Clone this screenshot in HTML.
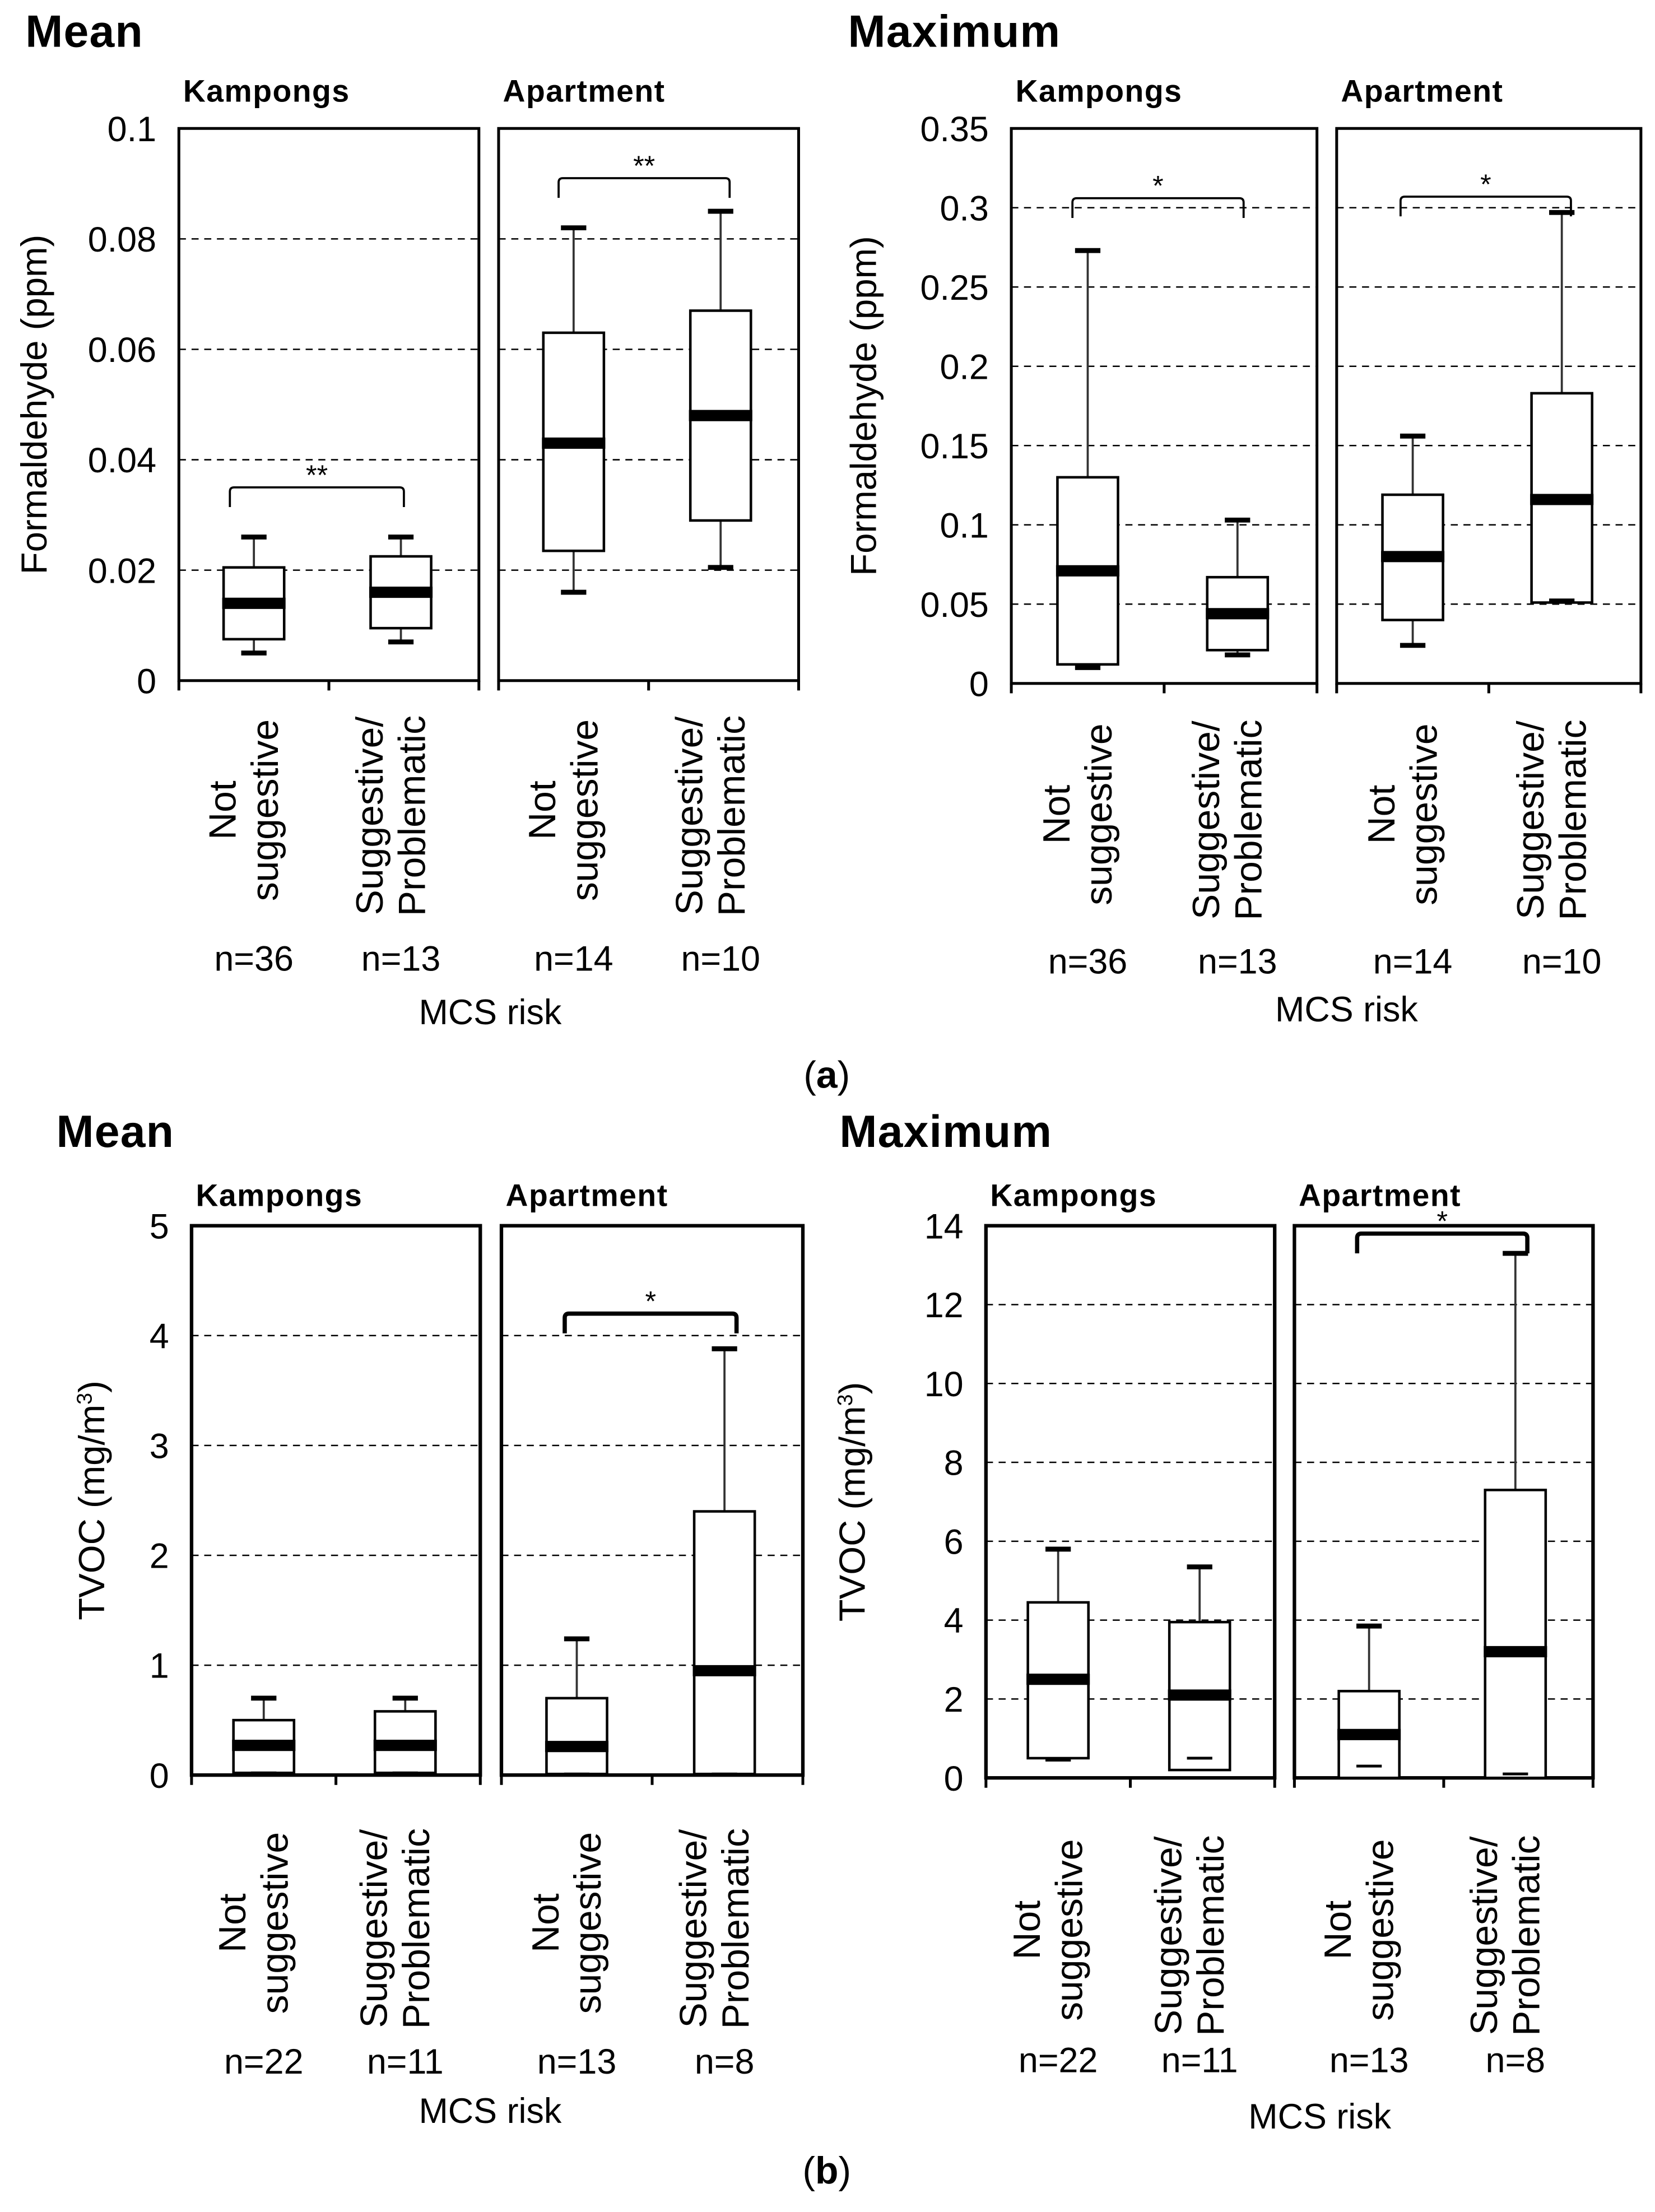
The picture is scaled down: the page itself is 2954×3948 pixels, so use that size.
<!DOCTYPE html>
<html><head><meta charset="utf-8"><style>
html,body{margin:0;padding:0;background:#fff}
svg{display:block}
text{font-family:"Liberation Sans",Arial,sans-serif;fill:#000}
</style></head><body>
<svg id="fig" width="2954" height="3948" viewBox="0 0 1175 1570" xmlns="http://www.w3.org/2000/svg">
<rect x="0" y="0" width="1175" height="1570" fill="#fff"/>
<g id="root"></g>
</svg>
<script>
// ---- data ----
const groups = ["Not suggestive", "Suggestive/Problematic"];
const locations = ["Kampongs", "Apartment"];
// stats per box: [min, q1, median, q3, max]
const hchoMeanKampongs = [[0.005,0.0075,0.014,0.0205,0.026],[0.007,0.0095,0.016,0.0225,0.026]];
const hchoMeanApartment = [[0.016,0.0235,0.043,0.063,0.082],[0.0205,0.029,0.048,0.067,0.085]];
const hchoMaxKampongs = [[0.01,0.012,0.071,0.13,0.273],[0.018,0.021,0.044,0.067,0.103]];
const hchoMaxApartment = [[0.024,0.04,0.08,0.119,0.156],[0.052,0.051,0.116,0.183,0.297]];
const tvocMeanKampongs = [[0.02,0.02,0.27,0.5,0.7],[0.02,0.02,0.27,0.58,0.7]];
const tvocMeanApartment = [[0.01,0.01,0.26,0.7,1.24],[0.01,0.01,0.95,2.4,3.88]];
const tvocMaxKampongs = [[0.45,0.5,2.5,4.45,5.8],[0.5,0.2,2.1,3.95,5.35]];
const tvocMaxApartment = [[0.3,0,1.1,2.2,3.85],[0.1,0,3.2,7.3,13.3]];
const nA = ["n=36","n=13","n=14","n=10"];
const nB = ["n=22","n=11","n=13","n=8"];
const ticksHchoMean = [0,0.02,0.04,0.06,0.08,0.1];
const ticksHchoMax = [0,0.05,0.1,0.15,0.2,0.25,0.3,0.35];
const ticksTvocMean = [0,1,2,3,4,5];
const ticksTvocMax = [0,2,4,6,8,10,12,14];

const NS = "http://www.w3.org/2000/svg";
const root = document.getElementById('root');
function el(tag, attrs, parent, txt){
  const e = document.createElementNS(NS, tag);
  for (const k in attrs) e.setAttribute(k, attrs[k]);
  if (txt !== undefined) e.textContent = txt;
  (parent || root).appendChild(e);
  return e;
}

function panel(cfg){
  const g = el('g', {});
  
  
  const ymax = cfg.ticks[cfg.ticks.length-1];
  const yS = v => cfg.y1 - (v / ymax) * (cfg.y1 - cfg.y0);
  const t = el('text', {x: cfg.titleX, y: cfg.titleY, 'font-size': 32, 'font-weight': 'bold', 'letter-spacing': 0.5}, g, cfg.title);
  
  
  const yt = el('text', {x: 0, y: 0, 'font-size': 26, 'text-anchor': 'middle', transform: `translate(${cfg.ytX},${(cfg.y0+cfg.y1)/2}) rotate(-90)`}, g);
  
  
  if (cfg.sup) {
    yt.appendChild(document.createTextNode(cfg.ytitle));
    const s = el('tspan', {'font-size': 15, dy: -9}, yt, '3');
    
    
    const c = el('tspan', {dy: 9}, yt, ')');
    
    
  } else yt.textContent = cfg.ytitle;
  cfg.ticks.forEach(v => {
    const tl = el('text', {x: cfg.frames[0][0] - 16, y: yS(v) + 9, 'font-size': 25, 'text-anchor': 'end'}, g, String(v));
    
    
  });
  cfg.frames.forEach((f, fi) => {
    const [xa, xb] = f;
    const sub = el('text', {x: xa + 3, y: cfg.subY, 'font-size': 22, 'font-weight': 'bold', 'letter-spacing': 0.6}, g, locations[fi]);
    
    
    cfg.ticks.slice(1, -1).forEach(v => {
      const gl = el('line', {x1: xa, x2: xb, y1: yS(v), y2: yS(v), stroke: '#000', 'stroke-width': 1, 'stroke-dasharray': '5,4'}, g);
      
      
    });
    const fr = el('rect', {x: xa, y: cfg.y0, width: xb - xa, height: cfg.y1 - cfg.y0, fill: 'none', stroke: '#000', 'stroke-width': cfg.fw}, g);
    
    
    [xa, (xa+xb)/2, xb].forEach(tx => {
      const tk = el('line', {x1: tx, x2: tx, y1: cfg.y1, y2: cfg.y1 + 7, stroke: '#000', 'stroke-width': 2}, g);
      
      
    });
    const data = cfg.data[fi];
    data.forEach((d, bi) => {
      const cx = xa + (xb - xa) * (bi === 0 ? 0.25 : 0.74);
      const w = 43;
      const [mn, q1, md, q3, mx] = d;
      const wl = el('line', {x1: cx, x2: cx, y1: yS(mx), y2: yS(q3), stroke: '#333', 'stroke-width': 1.5}, g);
      
      
      const wl2 = el('line', {x1: cx, x2: cx, y1: yS(q1), y2: yS(mn), stroke: '#333', 'stroke-width': 1.5}, g);
      
      
      const bx = el('rect', {x: cx - w/2, y: yS(q3), width: w, height: Math.max(0, yS(q1) - yS(q3)), fill: '#fff', stroke: '#000', 'stroke-width': 1.8}, g);
      
      
      const c1 = el('line', {x1: cx - 9, x2: cx + 9, y1: yS(mx), y2: yS(mx), stroke: '#000', 'stroke-width': 3.5}, g);
      
      
      const c2 = el('line', {x1: cx - 9, x2: cx + 9, y1: yS(mn), y2: yS(mn), stroke: '#000', 'stroke-width': cfg.minCapW}, g);
      
      
      const me = el('line', {x1: cx - w/2 - 1, x2: cx + w/2 + 1, y1: yS(md), y2: yS(md), stroke: '#000', 'stroke-width': 8}, g);
      
      
      const lines = bi === 0 ? ["Not", "suggestive"] : ["Suggestive/", "Problematic"];
      lines.forEach((ln, li) => {
        const lx = cx + (li === 0 ? -13 : 17);
        const lt = el('text', {x: 0, y: 0, 'font-size': 27, 'text-anchor': 'middle', transform: `translate(${lx},${cfg.catY + (bi===1?4:0)}) rotate(-90)`}, g, ln);
        
        
      });
      const nt = el('text', {x: cx, y: cfg.nY, 'font-size': 25, 'text-anchor': 'middle'}, g, cfg.n[fi*2 + bi]);
      
      
    });
    const br = cfg.brackets[fi];
    if (br[3]) {
      const bx1 = xa + (xb - xa) * br[1], bx2 = xa + (xb - xa) * br[2];
      const by = yS(br[0]);
      const bp = el('path', {d: `M${bx1},${by + 14} V${by + 3} Q${bx1},${by} ${bx1 + 3},${by} H${bx2 - 3} Q${bx2},${by} ${bx2},${by + 3} V${by + 14}`, fill: 'none', stroke: '#000', 'stroke-width': cfg.bw}, g);
      
      
      const st = el('text', {x: (bx1 + bx2)/2, y: by - 2, 'font-size': 20, 'text-anchor': 'middle'}, g, br[3]);
      
      
    }
  });
  const mcs = el('text', {x: cfg.mcsX, y: cfg.mcsY, 'font-size': 25, 'text-anchor': 'middle'}, g, 'MCS risk');
  
  
}

panel({name:'hcho-mean-panel', title:'Mean', titleX:18, titleY:33, subY:72, y0:91, y1:483,
  frames:[[127,340],[354,567]], ticks:ticksHchoMean, data:[hchoMeanKampongs,hchoMeanApartment],
  ytitle:'Formaldehyde (ppm)', ytX:33, catY:575, nY:689, n:nA, mcsX:348, mcsY:727, fw:2, bw:1.5, minCapW:3.5,
  brackets:[[0.035,0.17,0.75,'**'],[0.091,0.2,0.77,'**']]});
panel({name:'hcho-max-panel', title:'Maximum', titleX:602, titleY:33, subY:72, y0:91, y1:485,
  frames:[[718,935],[949,1165]], ticks:ticksHchoMax, data:[hchoMaxKampongs,hchoMaxApartment],
  ytitle:'Formaldehyde (ppm)', ytX:622, catY:578, nY:691, n:nA, mcsX:956, mcsY:725, fw:2, bw:1.5, minCapW:3.5,
  brackets:[[0.306,0.2,0.76,'*'],[0.307,0.21,0.77,'*']]});
panel({name:'tvoc-mean-panel', title:'Mean', titleX:40, titleY:814, subY:856, y0:870, y1:1260,
  frames:[[136,341],[356,570]], ticks:ticksTvocMean, data:[tvocMeanKampongs,tvocMeanApartment],
  ytitle:'TVOC (mg/m', sup:true, ytX:74, catY:1365, nY:1472, n:nB, mcsX:348, mcsY:1507, fw:2.5, bw:3, minCapW:2,
  brackets:[[0,0,0,''],[4.2,0.21,0.78,'*']]});
panel({name:'tvoc-max-panel', title:'Maximum', titleX:596, titleY:814, subY:856, y0:870, y1:1262,
  frames:[[700,905],[919,1131]], ticks:ticksTvocMax, data:[tvocMaxKampongs,tvocMaxApartment],
  ytitle:'TVOC (mg/m', sup:true, ytX:614, catY:1370, nY:1471, n:nB, mcsX:937, mcsY:1511, fw:2.5, bw:3, minCapW:2,
  brackets:[[0,0,0,''],[13.8,0.21,0.78,'*']]});

const capA = el('text', {x: 587, y: 772, 'font-size': 27, 'text-anchor': 'middle', 'font-family': 'Liberation Serif, serif'}, root);


capA.innerHTML = '(<tspan font-weight="bold">a</tspan>)';
const capB = el('text', {x: 587, y: 1550, 'font-size': 27, 'text-anchor': 'middle', 'font-family': 'Liberation Serif, serif'}, root);


capB.innerHTML = '(<tspan font-weight="bold">b</tspan>)';
</script>
</body></html>
